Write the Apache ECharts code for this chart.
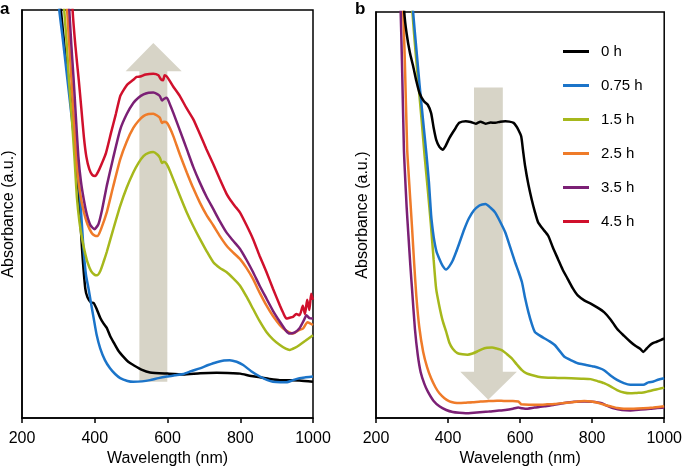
<!DOCTYPE html>
<html>
<head>
<meta charset="utf-8">
<script src="https://cdn.jsdelivr.net/npm/echarts@6/dist/echarts.min.js"></script>
<style>
html,body{margin:0;padding:0;background:#fff;}
#chart{width:685px;height:472px;}
</style>
</head>
<body>
<div id="chart"></div>
<script>
// ---------- data ----------
const seriesNames = ['0 h', '0.75 h', '1.5 h', '2.5 h', '3.5 h', '4.5 h'];
const xTicks = [200, 400, 600, 800, 1000];

// panel a: [wavelength nm, absorbance a.u.]
const a_0h = [[300,108],[307,100],[318,90],[328,83],[340,72],[350,61],[357,53.7],[365,41.5],[374,31.7],[380,29.6],[390,28.3],[397,28.2],[405,26.8],[415,24.6],[424,23.2],[433,22.1],[442,20.2],[451,18.7],[465,16.5],[479,15],[492,13.8],[506,13],[530,11.8],[552,11.2],[600,10.9],[643,10.7],[690,11],[735,11.1],[780,11],[800,10.9],[830,10.3],[854,10],[880,9.6],[909,9.3],[940,9.3],[963,9.2],[1000,8.9]];
const a_075h = [[297,108],[302.5,100],[312,93],[325,82.9],[335,75],[345,67],[352,61],[360,53.7],[369,41.5],[376,35],[383,31.7],[390,28],[397,24.5],[405,20.5],[415,17.1],[428,14.2],[442,12.2],[456,10.8],[470,9.8],[490,9.1],[506,8.9],[530,9],[552,9.3],[575,9.8],[598,10.2],[620,10.5],[643,10.8],[665,11.5],[689,12.2],[712,13],[735,13.7],[755,14.1],[771,14.2],[790,13.8],[808,13],[830,11.5],[854,10.2],[875,9.3],[890,8.9],[910,8.8],[927,8.8],[945,9.3],[963,9.8],[980,10],[1000,10.2]];
const a_15h = [[311,108],[316,100],[322,93],[329,82.9],[337,73.5],[344.6,63.4],[351,54],[358,48],[365,44],[372,41],[380,38.2],[390,36],[400,35.1],[406,35],[415,36],[425,38.5],[433,40.7],[450,46],[470,52],[488,56.5],[506,60.2],[520,62.5],[534,64.2],[548,65],[561,65.2],[572,64.6],[579,63.8],[585,62.5],[590,62.8],[598,62.2],[607,60.5],[616,58.5],[634,54.5],[653,50.4],[671,47],[689,43.9],[707,41],[726,38.2],[744,36.8],[762,35.8],[780,34.3],[799,32.5],[817,29.8],[835,26.8],[853,23.8],[872,21.1],[890,19.3],[909,17.9],[925,17],[936,16.7],[950,17.2],[963,17.9],[980,19],[1000,20.3]];
const a_25h = [[320,108],[324,100],[331,90],[338,80],[345,70],[352,61],[360,55],[370,50.5],[380,47.5],[392,45.3],[400,44.7],[408,44.6],[418,46.5],[433,50.4],[450,56.5],[470,63.4],[488,67.8],[506,71.1],[520,72.8],[534,74],[548,74.5],[561,74.6],[572,74.1],[579,73.6],[585,72.3],[590,72.6],[598,72.4],[607,71],[616,69.1],[634,64.6],[653,60.2],[671,56.3],[689,52.8],[707,49.8],[726,47.2],[744,44.6],[762,42.3],[780,40.6],[799,39],[817,36.8],[835,34.1],[853,30.8],[872,27.6],[890,25],[909,22.8],[925,21.5],[945,20.7],[960,21.5],[973,22],[985,23.5],[1000,22.8]];
const a_35h = [[326,108],[330,100],[336,91],[342,82.9],[348,74],[355,64],[362,58],[370,53.5],[378,50],[388,47.3],[399,46.3],[410,47.5],[420,51],[433,56.9],[450,63.5],[470,70.7],[488,74.5],[506,77.2],[520,78.5],[534,79.3],[548,79.7],[561,79.8],[572,79.4],[579,78.9],[585,77.8],[590,78.2],[598,78.5],[607,76.8],[616,74.8],[634,70.5],[653,65.9],[671,61.5],[689,57.7],[707,54.3],[726,51.2],[744,48.2],[762,45.5],[780,43.5],[799,41.5],[817,38.8],[835,35.8],[853,32.5],[872,29.3],[890,26.3],[909,23.6],[925,21.5],[936,20.7],[950,21],[963,22],[975,24],[982,25.2],[990,24.5],[1000,24.4]];
const a_45h = [[335,108],[339,100],[347,91],[356,82.9],[363,76],[370,69],[377,64],[385,61],[393,59.6],[401,59.3],[410,60.5],[420,62.5],[431,65],[445,70],[458,74.5],[470,78.9],[480,80.5],[490,81.8],[506,82.9],[515,83.6],[525,83.7],[540,84.2],[561,84.4],[575,84],[582,83],[588,82.8],[592,84],[598,83.7],[607,82.5],[616,81.2],[634,78.9],[652,76],[671,73.2],[689,69.6],[707,65.9],[726,62.2],[744,58.5],[762,55],[771,53.7],[785,52],[799,50.4],[817,47.3],[835,43.9],[853,39.8],[872,35.8],[890,31.7],[909,27.6],[918,25.8],[927,24.4],[936,24.6],[945,24.8],[954,25.5],[963,25.2],[972,27.5],[978,25.5],[984,29],[990,26.5],[995,30.5],[1000,29]];

// panel b
const b_0h = [[275,108],[278.4,100],[285,94.7],[294,90],[303,86.7],[312,83],[321,80],[333,78],[344,77.1],[353,75.1],[360,71.5],[367,68.6],[376,66.8],[385,66.1],[393,67],[404,69],[418,71],[431,72.7],[449,73.1],[463,72.9],[477,72.5],[490,73],[504,72.5],[518,72.8],[531,72.7],[545,73],[559,73.1],[570,73],[582,72.7],[590,71.8],[595,71],[603,69.4],[608,66],[614,62],[623,57.5],[632,53.9],[641,50.8],[650,48.2],[664,46.5],[678,44.9],[691,42],[705,39.2],[718,36.6],[732,34.3],[746,32],[760,30.2],[778,29],[796,28.2],[815,27.2],[833,26.1],[851,24.3],[869,22],[888,20.3],[906,18.8],[920,17.8],[933,17.1],[942,16.3],[952,17.2],[961,18],[970,18.5],[979,18.8],[990,19.2],[1000,19.6]];
const b_075h = [[298,108],[303,100],[312,91],[321,82],[331,73],[340,65],[347,58],[353,50],[358,46],[362.5,43.3],[368,41],[376,39.2],[385,37.5],[394.5,36.6],[403,37.3],[413,38.8],[422,40.8],[431,43],[445,46.5],[458,49.2],[472,51.2],[486,52.3],[495,52.6],[504,52.7],[518,51.8],[531,50.6],[545,48.3],[559,45.7],[572,42.2],[586,38.4],[595,36.2],[605,33.5],[614,29.5],[623,26.1],[632,23.3],[641,21.2],[655,20.3],[668,19.6],[682,18.9],[696,18],[710,16.5],[723,15.1],[742,14.2],[760,13.5],[783,13.1],[805,12.7],[820,12.3],[833,11.8],[851,10.5],[869,9.4],[888,8.6],[906,8.2],[924,8.2],[942,8.2],[956,8.8],[970,9],[985,9.5],[1000,9.8]];
const b_15h = [[296,108],[301,100],[310,90],[318,82],[327,73],[335,64.5],[344,56],[352,48],[360,39],[367,31.8],[376,27.5],[385,24],[395,21.2],[404,18.5],[413,17.1],[426,16],[440,15.7],[454,15.6],[468,15.9],[481,16.4],[495,17],[508,17.3],[522,17.4],[536,17.1],[550,16.7],[563,15.8],[577,14.7],[591,13.2],[605,11.8],[618,11],[632,10.6],[650,10.2],[668,10],[705,9.9],[742,9.8],[770,9.7],[796,9.6],[815,9.1],[833,8.6],[851,7.8],[869,6.9],[888,6.3],[906,6.1],[924,6.2],[942,6.3],[956,6.6],[970,6.9],[985,7.2],[1000,7.5]];
const b_25h = [[272,108],[275.6,100],[280,88],[286.6,66.1],[290,61],[295,54],[300,47],[306,38],[312,30],[320,22.5],[331,16.3],[342,12.5],[353,9.8],[365,7.6],[376,6.1],[390,4.9],[404,4.1],[418,3.8],[431,3.7],[450,3.8],[468,3.9],[490,4.1],[513,4.2],[536,4.3],[559,4.2],[580,4.2],[595,4.1],[600,3.7],[603,3.4],[625,3.3],[650,3.3],[675,3.4],[696,3.5],[720,3.7],[742,3.9],[760,4.1],[778,4.2],[798,4.1],[815,3.8],[833,3.3],[851,2.9],[870,2.5],[888,2.3],[915,2.3],[942,2.4],[970,2.6],[1000,2.9]];
const b_35h = [[265,108],[268.5,100],[272,88],[277.5,66.1],[280,61],[285,52],[290,45],[295,38],[300,31.8],[308,22],[316,15.5],[324,11.3],[334,8.5],[344,6.5],[360,4.2],[376,2.9],[395,2],[413,1.5],[431,1.3],[449,1.2],[480,1.4],[513,1.6],[536,1.8],[559,2],[580,2.3],[595,2.6],[605,2.4],[614,2.3],[640,2.6],[668,2.9],[695,3.3],[723,3.7],[750,4],[778,4.1],[800,4],[824,3.7],[842,3],[860,2.4],[883,2],[906,1.9],[935,2.1],[961,2.3],[980,2.5],[1000,2.6]];
const b_45h = [];

// arrows (data units): shaft left/right, head left/right, tip x, tail y, head base y, tip y
const arrowA = [522.7, 599.5, 485, 639, 561, 8.9, 85, 91.9];
const arrowB = [472, 552, 434, 591, 511.5, 81.4, 11.4, 4.5];

// ---------- chart ----------
const colors = ['#000000', '#1b74c9', '#a6b81c', '#ef7b29', '#7b2075', '#d0102c'];
const FONT = 'Liberation Sans, Arial, Helvetica, sans-serif';
const chart = echarts.init(document.getElementById('chart'), null, {renderer: 'canvas'});

function xAx(gi) {
  return {
    type: 'value', gridIndex: gi, min: 200, max: 1000, interval: 200,
    name: 'Wavelength (nm)', nameLocation: 'middle', nameGap: 32,
    nameTextStyle: {fontFamily: FONT, fontSize: 16, color: '#000'},
    axisLine: {lineStyle: {color: '#000', width: 1.5}},
    axisTick: {show: true, inside: false, length: 5, lineStyle: {color: '#000', width: 1.5}},
    axisLabel: {fontFamily: FONT, fontSize: 16, color: '#000', margin: 12,
      showMinLabel: true, showMaxLabel: true,
      formatter: v => (xTicks.indexOf(v) >= 0 ? String(v) : '')},
    splitLine: {show: false}
  };
}
function yAx(gi) {
  return {
    type: 'value', gridIndex: gi, min: 0, max: 100,
    name: 'Absorbance (a.u.)', nameLocation: 'middle', nameGap: 5,
    nameTextStyle: {fontFamily: FONT, fontSize: 16, color: '#000'},
    axisLine: {show: true, lineStyle: {color: '#000', width: 1.5}},
    axisTick: {show: false}, axisLabel: {show: false}, splitLine: {show: false}
  };
}
function arrowSeries(gi, arr) {
  return {
    type: 'custom', xAxisIndex: gi, yAxisIndex: gi, z: 1, silent: true,
    data: [arr],
    renderItem: function (params, api) {
      const a = arr;
      const pts = [
        [a[0], a[5]], [a[0], a[6]], [a[2], a[6]], [a[4], a[7]],
        [a[3], a[6]], [a[1], a[6]], [a[1], a[5]]
      ].map(p => api.coord(p));
      return {type: 'polygon', shape: {points: pts}, style: {fill: '#d7d4c7'}};
    }
  };
}
const dataA = [a_0h, a_075h, a_15h, a_25h, a_35h, a_45h];
const dataB = [b_0h, b_075h, b_15h, b_25h, b_35h, b_45h];
const series = [arrowSeries(0, arrowA), arrowSeries(1, arrowB)];
[dataA, dataB].forEach((set, gi) => {
  set.forEach((d, i) => {
    series.push({
      type: 'line', name: seriesNames[i], xAxisIndex: gi, yAxisIndex: gi,
      data: d, showSymbol: false, symbol: 'none', smooth: 0.2, clip: true, z: 3 + (gi === 1 ? 6 - i : i),
      lineStyle: {color: colors[i], width: 2.5}, itemStyle: {color: colors[i]},
      animation: false
    });
  });
});

chart.setOption({
  animation: false,
  backgroundColor: '#fff',
  grid: [
    {left: 22, top: 10, width: 291, height: 410, show: true, borderColor: '#000', borderWidth: 1.5, backgroundColor: 'transparent'},
    {left: 376, top: 12, width: 292, height: 408, show: true, borderColor: '#000', borderWidth: 1.5, backgroundColor: 'transparent'}
  ],
  xAxis: [xAx(0), xAx(1)],
  yAxis: [yAx(0), yAx(1)],
  legend: {
    orient: 'vertical', left: 563, top: 44, padding: 0,
    data: seriesNames, icon: 'rect', itemWidth: 26, itemHeight: 3, itemGap: 19,
    textStyle: {fontFamily: FONT, fontSize: 15, color: '#000', padding: [0, 0, 0, 7]},
    selectedMode: false
  },
  graphic: [
    {type: 'text', left: 0, top: 1, style: {text: 'a', font: 'bold 17px ' + FONT, fill: '#000'}},
    {type: 'text', left: 355, top: 1, style: {text: 'b', font: 'bold 17px ' + FONT, fill: '#000'}}
  ],
  series: series
});
</script>
</body>
</html>
